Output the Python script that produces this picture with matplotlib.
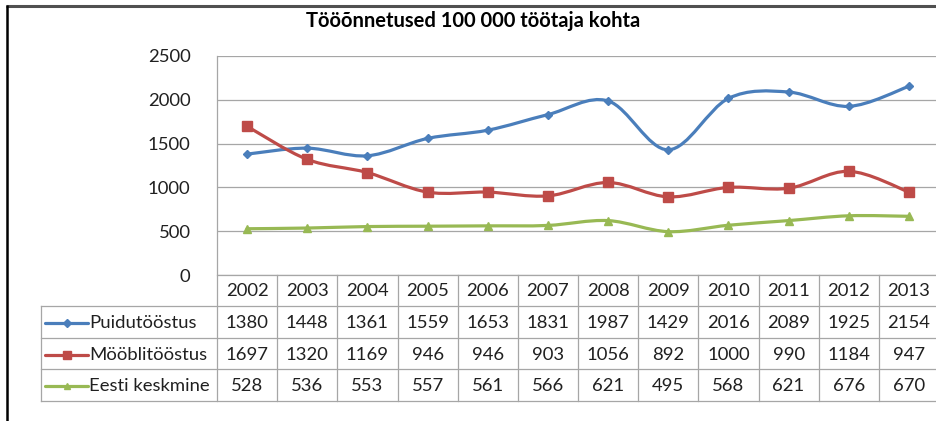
import numpy as np
import matplotlib
matplotlib.use('Agg')
import matplotlib.pyplot as plt
from matplotlib.path import Path
import matplotlib.patches as patches

years = ["2002", "2003", "2004", "2005", "2006", "2007",
         "2008", "2009", "2010", "2011", "2012", "2013"]
names = ["Puidutööstus", "Mööblitööstus", "Eesti keskmine"]
puit = [1380, 1448, 1361, 1559, 1653, 1831, 1987, 1429, 2016, 2089, 1925, 2154]
mobl = [1697, 1320, 1169, 946, 946, 903, 1056, 892, 1000, 990, 1184, 947]
eesti = [528, 536, 553, 557, 561, 566, 621, 495, 568, 621, 676, 670]
yticks = [0, 500, 1000, 1500, 2000, 2500]
title = "Tööõnnetused 100 000 töötaja kohta"

series = [puit, mobl, eesti]
colors = ["#4a7ebb", "#be4b48", "#98b954"]
markers = [("D", 4.5), ("s", 6.5), ("^", 6)]

font = "Lato"
fs = 13.3
W, H = 936, 421

fig = plt.figure(figsize=(W / 100, H / 100), dpi=100)

# plot area in pixels
pl, pr, pt, pb = 217, 939, 56, 275
ax = fig.add_axes([pl / W, 1 - pb / H, (pr - pl) / W, (pb - pt) / H])
ax.set_xlim(0, 12)
ax.set_ylim(0, 2500)
for s in ax.spines.values():
    s.set_visible(False)
ax.set_xticks([])
ax.set_yticks(yticks)
ax.set_yticklabels([str(v) for v in yticks], fontsize=fs, family=font, color="#202020")
ax.tick_params(axis="y", length=0, pad=19)
for v in yticks:
    ax.axhline(v, color="#a6a6a6", lw=0.9, zorder=1)


def smooth_path(xs, ys):
    pts = np.column_stack([xs, ys]).astype(float)
    verts = [pts[0]]
    codes = [Path.MOVETO]
    n = len(pts)
    for i in range(n - 1):
        p0 = pts[max(i - 1, 0)]
        p1 = pts[i]
        p2 = pts[i + 1]
        p3 = pts[min(i + 2, n - 1)]
        c1 = p1 + (p2 - p0) / 6.0
        c2 = p2 - (p3 - p1) / 6.0
        verts += [c1, c2, p2]
        codes += [Path.CURVE4] * 3
    return Path(verts, codes)


xs = np.arange(len(years)) + 0.5
for vals, c, (m, ms) in zip(series, colors, markers):
    ax.add_patch(patches.PathPatch(smooth_path(xs, vals), facecolor="none",
                                   edgecolor=c, lw=2.3, zorder=3, clip_on=False,
                                   capstyle="round"))
    ax.plot(xs, vals, linestyle="none", marker=m, ms=ms, color=c,
            markeredgecolor=c, zorder=4, clip_on=False)

# overlay in pixel coordinates for the data table and frame
ov = fig.add_axes([0, 0, 1, 1])
ov.set_xlim(0, W)
ov.set_ylim(H, 0)
ov.axis("off")

gc = "#a6a6a6"
cw = (pr - pl) / len(years)
rows = [275, 306, 338, 369, 401]
tl = 41
ov.plot([pl, pl], [pt, rows[-1]], color=gc, lw=0.9)
for i in range(1, len(years) + 1):
    xx = pl + i * cw
    ov.plot([xx, xx], [rows[0], rows[-1]], color=gc, lw=0.9)
ov.plot([pl, W], [rows[0], rows[0]], color=gc, lw=0.9)
for r in rows[1:]:
    ov.plot([tl, W], [r, r], color=gc, lw=0.9)
ov.plot([tl, tl], [rows[1], rows[-1]], color=gc, lw=0.9)

for i, y in enumerate(years):
    ov.text(pl + (i + 0.5) * cw, (rows[0] + rows[1]) / 2 + 1, y, ha="center",
            va="center", fontsize=fs, family=font, color="#202020")

for k, (nm, vals, c, (m, ms)) in enumerate(zip(names, series, colors, markers)):
    yc = (rows[k + 1] + rows[k + 2]) / 2 + 1
    ov.plot([45, 88], [yc, yc], color=c, lw=2.3, solid_capstyle="round")
    ov.plot([66.5], [yc], marker=m, ms=ms * 0.8, color=c)
    ov.text(89, yc, nm, ha="left", va="center", fontsize=fs, family=font,
            color="#202020")
    for i, v in enumerate(vals):
        ov.text(pl + (i + 0.5) * cw, yc, str(v), ha="center", va="center",
                fontsize=fs, family=font, color="#202020")

# chart frame
ov.plot([6, W], [6, 6], color="#505050", lw=2.2, solid_capstyle="butt")
ov.plot([6.5, 6.5], [5, H], color="#000000", lw=1.8, solid_capstyle="butt")

ov.text(473, 21, title, ha="center", va="center", fontsize=14.5,
        family=font, fontweight="bold", color="#000000")

fig.savefig("out.png", dpi=100)
